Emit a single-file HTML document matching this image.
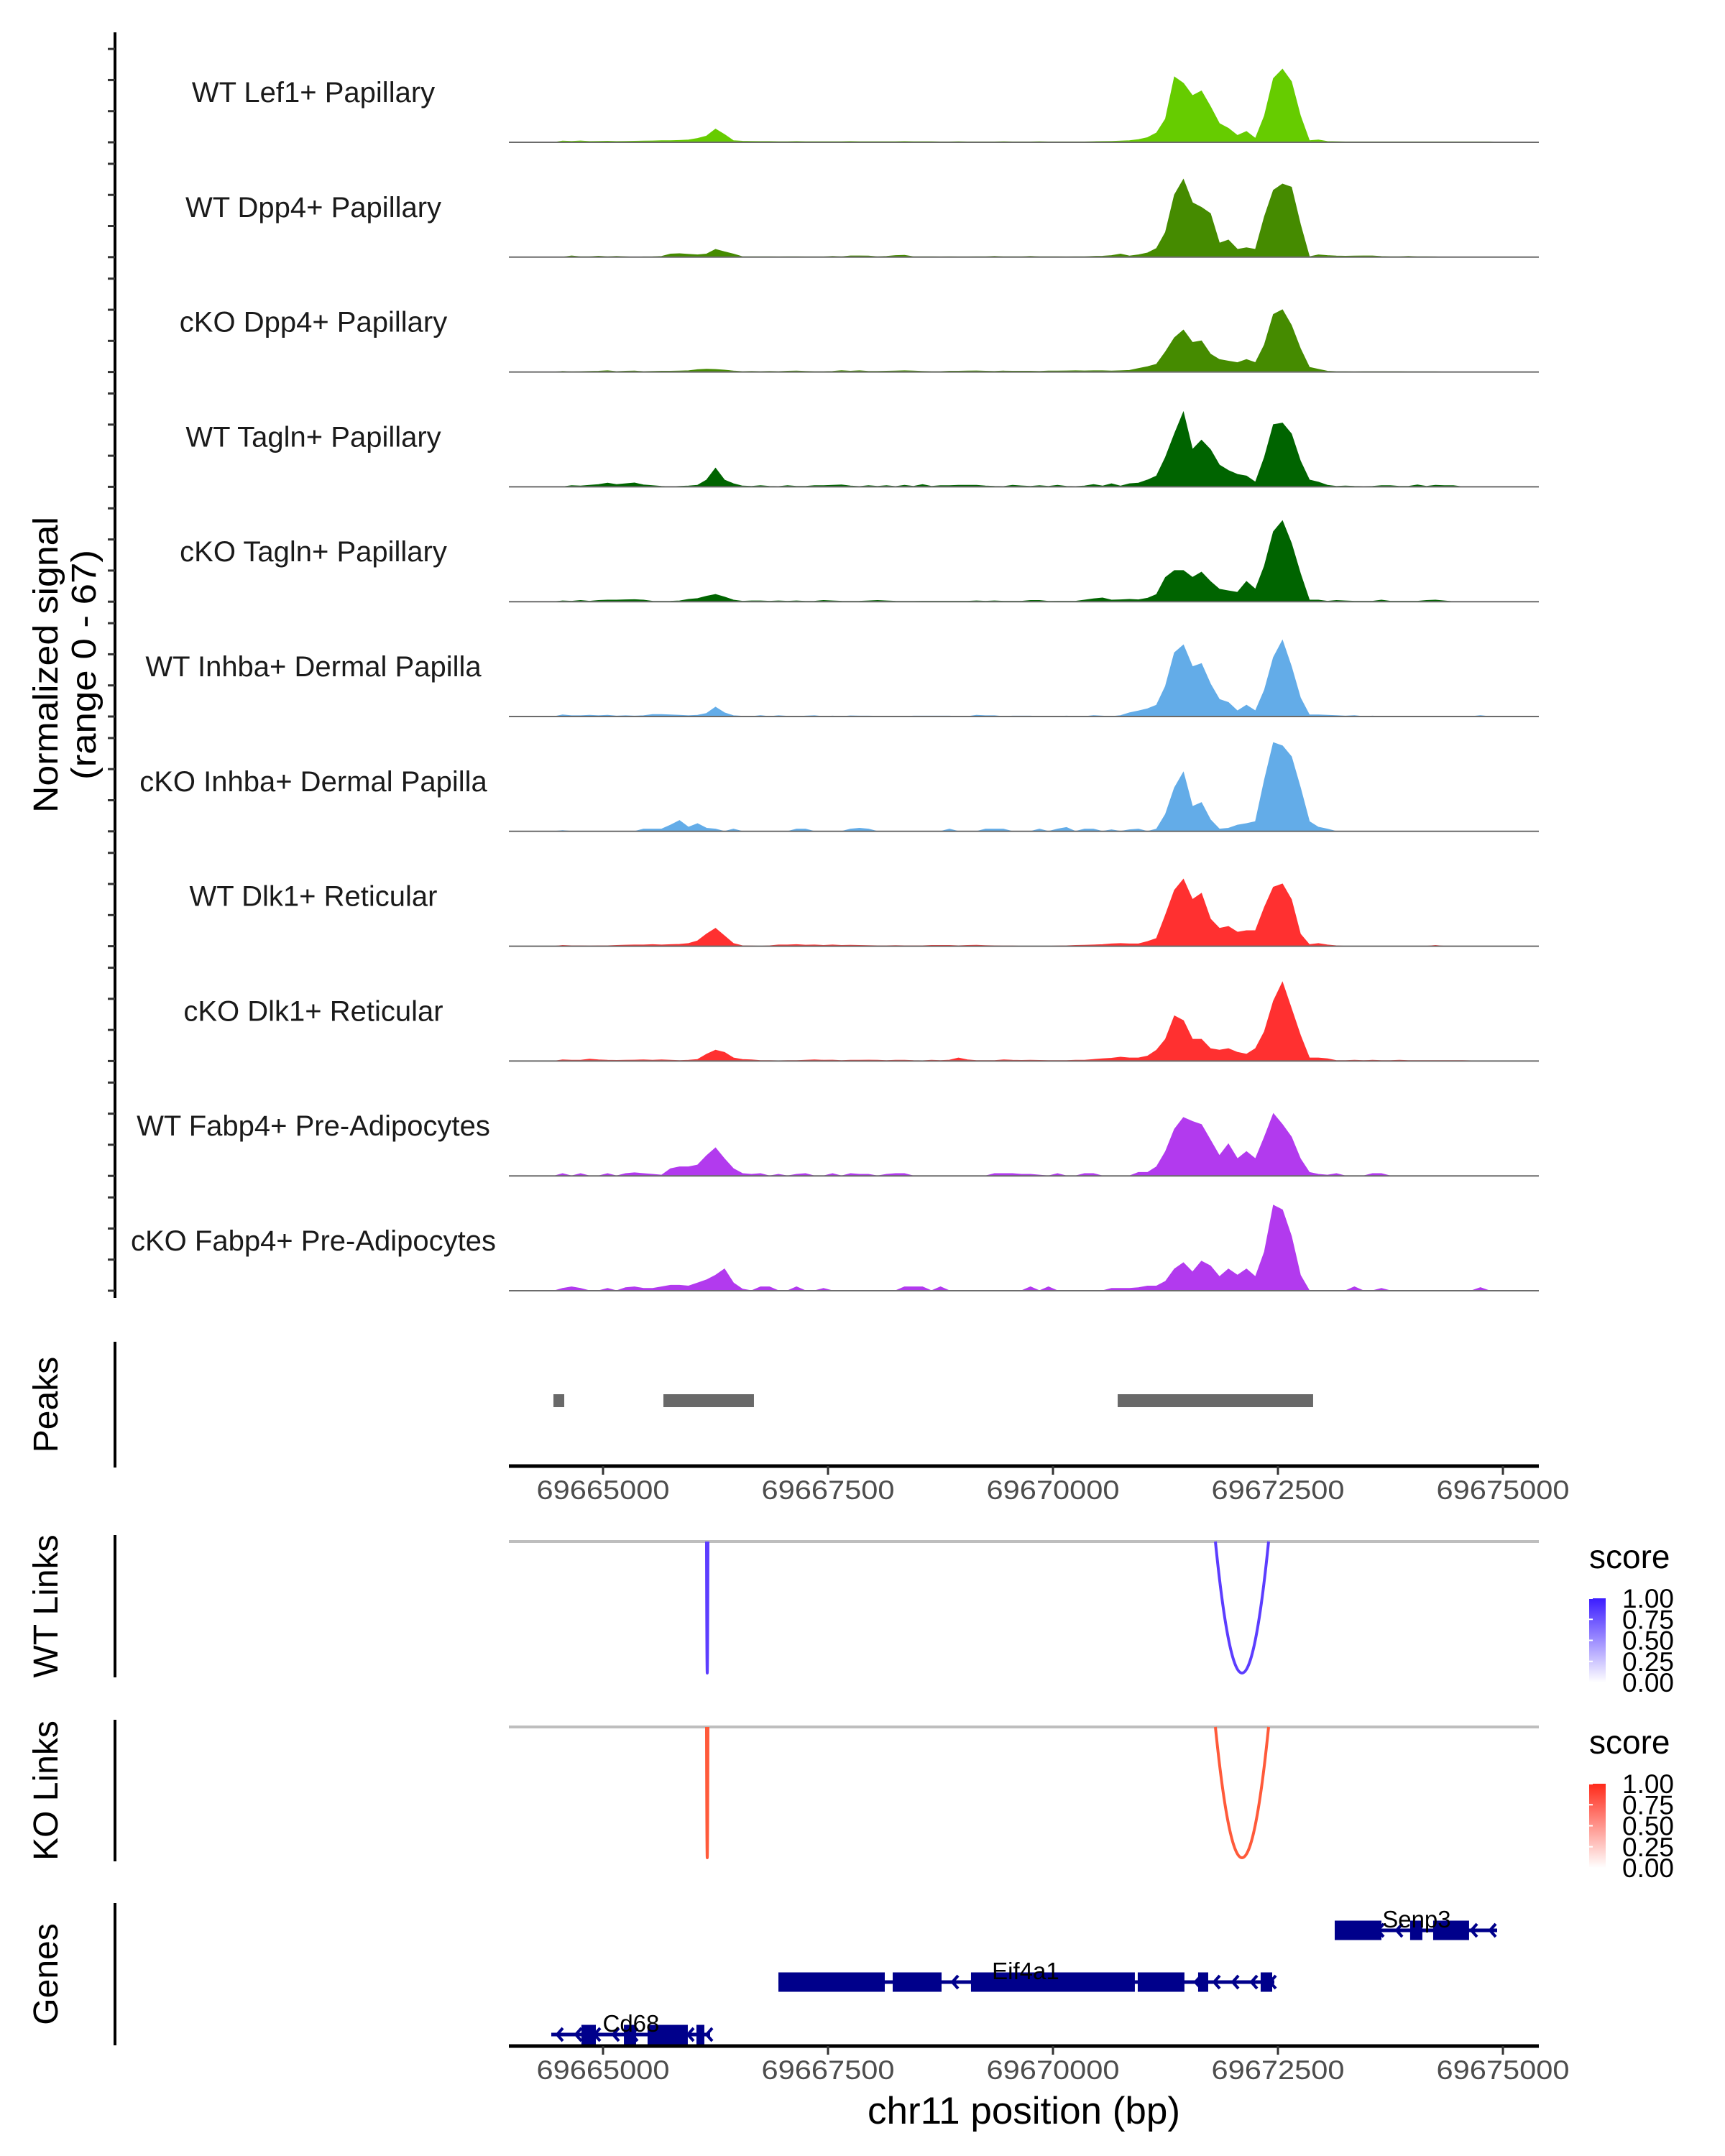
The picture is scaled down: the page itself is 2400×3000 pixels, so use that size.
<!DOCTYPE html>
<html><head><meta charset="utf-8"><title>Coverage plot chr11</title>
<style>
html,body{margin:0;padding:0;background:#fff;}
svg{display:block;font-family:"Liberation Sans",sans-serif;}
</style></head>
<body>
<svg id="chart" width="2400" height="3000" viewBox="0 0 2400 3000" xmlns="http://www.w3.org/2000/svg">
<defs>
<linearGradient id="gradWT" x1="0" y1="1" x2="0" y2="0"><stop offset="0" stop-color="#ffffff"/><stop offset="1" stop-color="#3b1cff"/></linearGradient>
<linearGradient id="gradKO" x1="0" y1="1" x2="0" y2="0"><stop offset="0" stop-color="#ffffff"/><stop offset="1" stop-color="#ff2a1a"/></linearGradient>
</defs>
<g id="tracks"></g>
<g id="peaks"></g>
<g id="links"></g>
<g id="genes"></g>
<g id="axes"></g>
</svg>
<script>
const trackNames = ["WT Lef1+ Papillary","WT Dpp4+ Papillary","cKO Dpp4+ Papillary","WT Tagln+ Papillary","cKO Tagln+ Papillary","WT Inhba+ Dermal Papilla","cKO Inhba+ Dermal Papilla","WT Dlk1+ Reticular","cKO Dlk1+ Reticular","WT Fabp4+ Pre-Adipocytes","cKO Fabp4+ Pre-Adipocytes"];
const trackColors = ["#66cc00","#458b00","#458b00","#006400","#006400","#63ace8","#63ace8","#ff3030","#ff3030","#b23aee","#b23aee"];
const binStart = 69664500;
const binSize = 100;
const sig1 = [0.8,0.6,0.9,0.5,0.6,0.7,0.5,0.6,0.7,0.8, 0.9,1,1,1.2,1.5,2.5,4,8.5,5,1, 0.7,0.6,0.5,0.5,0.4,0.4,0.5,0.4,0.4,0.4, 0.4,0.4,0.5,0.4,0.4,0.4,0.4,0.4,0.5,0.4, 0.4,0.4,0.3,0.3,0.4,0.3,0.3,0.3,0.3,0.4, 0.3,0.3,0.3,0.4,0.3,0.3,0.3,0.3,0.3,0.4, 0.5,0.6,0.8,1,1.7,3,6,15,42,38, 30,33,23,12,9,4.4,7,2.5,17,41, 47,39,17,1,1.5,0.5,0.4,0.3,0.3,0.3, 0.3,0.3,0.3,0.3,0.3,0.3,0.3,0.3,0.3,0.3, 0.3,0.3,0.3,0.3,0.2];
const sig2 = [0,0.8,0.3,0.3,0.6,0.3,0.5,0.3,0,0.2, 0.3,0.5,2,2.2,1.8,1.5,2,5,3.4,2, 0.3,0.3,0.3,0.3,0.2,0.3,0.3,0.2,0.2,0.2, 0.5,0.3,0.8,0.8,0.7,0.3,0.5,1,1.2,0.3, 0.3,0.3,0.2,0.3,0.2,0.2,0.3,0.3,0.5,0.3, 0.3,0.3,0.5,0.3,0.3,0.3,0.2,0.3,0.3,0.5, 0.6,1,2,0.7,1.5,2.7,5.6,16,40,50, 35,32,28,9,11,5,6,5,26,43, 47,45,21,0.3,1.5,1,0.7,0.6,0.7,0.8, 0.8,0.4,0.3,0.3,0.5,0.3,0.3,0.2,0,0, 0,0,0,0,0];
const sig3 = [0.4,0.2,0.3,0.4,0.5,0.8,0.3,0.5,0.6,0.3, 0.4,0.5,0.5,0.6,0.8,1.5,1.8,1.6,1.2,0.6, 0.3,0.4,0.3,0.4,0.3,0.5,0.6,0.4,0.3,0.3, 0.4,0.9,0.5,0.8,0.4,0.4,0.5,0.6,0.8,0.6, 0.4,0.3,0.3,0.5,0.5,0.6,0.7,0.5,0.4,0.6, 0.5,0.5,0.5,0.4,0.6,0.6,0.7,0.8,0.7,0.8, 0.8,0.6,0.8,1,2.2,3.4,5,13,22,27, 19,20,11.5,8,7,6,8,6,17.5,37, 40,30,15,3,1.7,0.5,0.3,0.3,0.2,0.3, 0.3,0.3,0.3,0.3,0.2,0.2,0.2,0.2,0,0, 0,0,0,0,0];
const sig4 = [0,0.8,0.5,1,1.5,2.4,1.5,2,2.5,1.2, 0.8,0.3,0,0.3,0.5,1,4.4,12,4.4,2, 0.5,0.3,0.8,0.3,0.2,0.8,0.3,0.3,0.8,0.8, 1,1.2,0.5,0.2,0.8,0.3,0.8,0.2,1,0.3, 1.5,0.3,0.8,0.8,1,1,1,0.5,0.3,0.2, 1,0.6,0.3,0.8,0.3,1,0.3,0.2,0.5,1.5, 0.5,2,0.5,2,2.4,4.4,7,19,34,48, 24,30,24,14,10.5,8,7,3,19,40, 41,34,16.6,4.4,3,1,0.3,0.5,0.3,0.2, 0.3,0.8,0.8,0.3,0.3,1.2,0.3,1,0.8,0.8, 0,0,0,0,0];
const sig5 = [0.5,0.3,0.8,0.3,0.8,1,1,1.2,1.3,1, 0.3,0.2,0.3,0.5,1.5,2,3.5,4.6,3,1, 0.3,0.5,0.5,0.3,0.5,0.3,0.5,0.2,0.3,0.8, 0.5,0.3,0.2,0.3,0.5,0.8,0.5,0.3,0.2,0.2, 0.3,0.3,0.3,0.3,0.3,0.3,0.5,0.3,0.5,0.3, 0.3,0.3,0.8,0.8,0.2,0.3,0.3,0.3,1,1.8, 2.4,1,1.2,1.5,1.2,2.2,4.6,15.6,20,20, 15.6,19,13,8,7,6,13,8,23,45, 52,37.5,18,1,1,0.3,0.8,0.5,0.3,0.3, 0.3,1,0.3,0.3,0.3,0.3,0.8,1,0.5,0, 0,0,0,0,0];
const sig6 = [1,0.5,0.5,0.8,0.5,0.8,0.3,0.5,0.3,0.5, 1.3,1.3,1,0.8,0.5,0.8,2,6,2.4,0.5, 0.2,0,0.6,0,0.5,0.2,0,0.3,0.5,0, 0.3,0,0.4,0.3,0.3,0.2,0,0,0,0.3, 0.3,0.3,0.3,0.3,0,0,0.8,0.5,0.5,0, 0.3,0.3,0.3,0,0,0,0.3,0,0,0.6, 0.3,0,0.6,2.4,3.6,5,7.3,19.5,41,46, 32,34,21,11,9,3.6,7.3,3.6,17,38, 49,32,12,1,1,0.8,0.6,0.3,0.6,0, 0.3,0,0,0,0,0,0,0,0,0, 0,0,0.6,0,0];
const sig7 = [0.5,0,0,0,0,0,0,0,0,1.5, 1.5,1.5,4,7,2.7,5,2,1.5,0,1.5, 0,0,0,0,0,0,1.5,1.5,0,0, 0,0,1.5,2,1.5,0,0,0,0,0, 0,0,0,1.5,0,0,0,1.5,1.5,1.5, 0,0,0,1.5,0,1.5,2.5,0,1.5,1.5, 0,1,0,1,1.5,0,1.5,11,28,38, 16,18.5,7.5,1.5,2,4,5,6.3,33,57, 55,48,28,6.3,2.7,1.5,0,0,0,0, 0,0,0,0,0,0,0,0,0,0, 0,0,0,0,0];
const sig8 = [0.5,0.3,0.3,0.2,0.3,0.3,0.5,0.7,0.8,0.8, 1,0.8,1,1.2,1.7,3.4,7.8,11.5,6.6,1.7, 0.3,0.2,0,0.3,0.8,0.8,1,0.7,0.8,0.5, 0.8,0.5,0.6,0.5,0.4,0.3,0.3,0.4,0.3,0.3, 0.3,0.5,0.5,0.5,0.3,0.5,0.6,0.4,0.3,0.2, 0.2,0,0,0,0,0.2,0.3,0.5,0.6,0.8, 1,1.5,1.7,1.5,1.5,3,5,20,36,43, 30,34,17.5,11.5,12.7,9,10,10,25,38, 40,30,7.8,1,1.7,0.8,0.3,0,0,0, 0,0,0,0,0,0,0,0.5,0,0, 0,0,0,0,0];
const sig9 = [0.8,0.5,0.5,1.2,0.8,0.5,0.4,0.5,0.6,0.8, 0.5,0.8,0.5,0.3,0.5,1,4.4,7,5.6,2, 1,0.8,0.3,0.3,0.2,0.3,0.3,0.5,0.8,0.5, 0.6,0.3,0.5,0.5,0.6,0.5,0.3,0.5,0.5,0.3, 0.2,0.5,0.3,0.6,2,0.8,0.3,0.3,0.3,0.8, 0.5,0.4,0.5,0.4,0.3,0.3,0.3,0.5,0.5,1, 1.5,1.8,2.5,2,2,3.2,7,14,29,26, 14,14,8,7,8,5.6,4.4,8,19,38.5, 50.7,33.7,16.6,2,2,1.5,0.3,0.3,0.5,0.3, 0.5,0.3,0.3,0.5,0.3,0.3,0.3,0.3,0.3,0.3, 0.3,0.2,0,0,0];
const sig10 = [1.5,0,1.5,0,0,1.5,0,1.5,2,1.5, 1,0.5,4.6,5.8,5.8,7,13,18,11,4.6, 1.5,1,1.5,0,1,0,1,1.5,0,0, 1.5,0,1.5,1,1,0,1,1.5,1.5,0, 0,0,0,0,0,0,0,0,1.5,1.5, 1.5,1,1,0.5,0,1.5,0,0,1.5,1.5, 0,0,0,0,2.2,2.2,5.8,15.6,30,37.5, 35,33,23,13,20.5,11,15.6,11,25,40, 33,25,11,2.2,1,0.5,1.5,0,0,0, 1.5,1.5,0,0,0,0,0,0,0,0, 0,0,0,0,0];
const sig11 = [1.5,2.5,1.5,0,0,1.5,0,2,2.5,1.5, 1.5,2.5,3.5,3.5,3,5,7,10,14,5, 1,0,2.5,2.5,0,0,2.5,0,0,1.5, 0,0,0,0,0,0,0,0,2.5,2.5, 2.5,0,2.5,0,0,0,0,0,0,0, 0,0,2.5,0,2.5,0,0,0,0,0, 0,1.5,1.5,1.5,2,3,3,6,14,18, 12,19,16,9,14,10,14,9,25,55, 52,35,10,0,0,0,0,0,2.5,0, 0,1.5,0,0,0,0,0,0,0,0, 0,0,2,0,0];
const signals = [sig1,sig2,sig3,sig4,sig5,sig6,sig7,sig8,sig9,sig10,sig11];
const yTicks = [0,20,40,60];
const xTicks = [69665000,69667500,69670000,69672500,69675000];
const peakStarts = [69664449,69665671,69670719];
const peakEnds = [69664569,69666677,69672891];
const linkStarts = [69666150,69671805];
const linkEnds = [69666166,69672396];
const geneNames = ["Cd68","Eif4a1","Senp3"];
const geneStarts = [69664425,69666949,69673131];
const geneEnds = [69666190,69672460,69674936];
const geneRows = [2,1,0];
const geneLabelPos = [69665311,69669696,69674041];
const exonStarts = [[69664760,69665232,69665495,69666038],[69666949,69668219,69669089,69670942,69671613,69672308],[69673131,69673969,69674225]];
const exonEnds = [[69664920,69665367,69665942,69666126],[69668131,69668762,69670910,69671461,69671725,69672436],[69673650,69674105,69674624]];
const legendTicks = [1.00,0.75,0.50,0.25,0.00];

const NS = "http://www.w3.org/2000/svg";
function mk(tag, attrs, parent){ const e=document.createElementNS(NS,tag); for(const k in attrs) e.setAttribute(k,attrs[k]); parent.appendChild(e); return e; }
const X0 = 69665000, XPX0 = 839, XS = 0.1252;
function xs(bp){ return XPX0 + (bp - X0) * XS; }
const PLOT_L = 708, PLOT_R = 2141;
const YMAX = 67, TRACK_H = 145;
function baseY(i){ return 198 + 159.8 * i; }
function ys(i, v){ return baseY(i) - v / YMAX * TRACK_H; }

const gT = document.getElementById('tracks');
const gA = document.getElementById('axes');
const ax = mk('line',{x1:160,y1:45,x2:160,y2:1806,stroke:'#000','stroke-width':4},gA);


const yt1 = mk('text',{x:0,y:0,'font-size':48,'text-anchor':'middle',fill:'#000',textLength:412,lengthAdjust:'spacingAndGlyphs',transform:'translate(80,925) rotate(-90)'},gA);
yt1.textContent='Normalized signal';


const yt2 = mk('text',{x:0,y:0,'font-size':48,'text-anchor':'middle',fill:'#000',textLength:320,lengthAdjust:'spacingAndGlyphs',transform:'translate(133,925) rotate(-90)'},gA);
yt2.textContent='(range 0 - 67)';



signals.forEach((s,i)=>{
  const g = mk('g',{},gT);
  
  
  const b = baseY(i);
  yTicks.forEach(t=>{
    const tk = mk('line',{x1:150,x2:160,y1:ys(i,t),y2:ys(i,t),stroke:'#333','stroke-width':3},gA);
    
    
  });
  let d = 'M'+xs(binStart - 40)+','+b;
  s.forEach((v,k)=>{ d += ' L'+xs(binStart + k*binSize + binSize/2).toFixed(1)+','+ys(i,v).toFixed(1); });
  d += ' L'+xs(binStart + s.length*binSize).toFixed(1)+','+b+' Z';
  const p = mk('path',{d:d,fill:trackColors[i],stroke:trackColors[i],'stroke-width':1},g);
  
  
  const bl = mk('line',{x1:PLOT_L,x2:PLOT_R,y1:b,y2:b,stroke:'#6b6b6b','stroke-width':2},g);
  
  
  const lb = mk('text',{x:436,y:b-70+14,'font-size':40,'text-anchor':'middle',fill:'#1a1a1a'},g);
  lb.textContent = trackNames[i];
  
  
});

const gP = document.getElementById('peaks');
function sideAxis(y1,y2,label,name){
  const l = mk('line',{x1:160,x2:160,y1:y1,y2:y2,stroke:'#000','stroke-width':4},gA);
  
  
  const t = mk('text',{x:0,y:0,'font-size':48,'text-anchor':'middle',fill:'#000',transform:'translate(80,'+((y1+y2)/2)+') rotate(-90)'},gA);
  t.textContent = label;
  
  
}
sideAxis(1867,2042,'Peaks','peaks');
sideAxis(2136,2334,'WT Links','wt-links');
sideAxis(2393,2590,'KO Links','ko-links');
sideAxis(2648,2846,'Genes','genes');
peakStarts.forEach((s,i)=>{
  const r = mk('rect',{x:xs(s),y:1940,width:xs(peakEnds[i])-xs(s),height:18,fill:'#696969'},gP);
  
  
});
function xAxis(y, showTitle){
  const l = mk('line',{x1:PLOT_L,x2:PLOT_R,y1:y,y2:y,stroke:'#000','stroke-width':5},gA);
  
  
  xTicks.forEach(t=>{
    const tk = mk('line',{x1:xs(t),x2:xs(t),y1:y,y2:y+12,stroke:'#333','stroke-width':3},gA);
    
    
    const tl = mk('text',{x:xs(t),y:y+46,'font-size':37,'text-anchor':'middle',fill:'#4d4d4d',textLength:185,lengthAdjust:'spacingAndGlyphs'},gA);
    tl.textContent = String(t);
    
    
  });
  if(showTitle){
    const tt = mk('text',{x:(PLOT_L+PLOT_R)/2,y:y+108,'font-size':53,'text-anchor':'middle',fill:'#000'},gA);
    tt.textContent = 'chr11 position (bp)';
    
    
  }
}
xAxis(2040,false);

const gL = document.getElementById('links');
function linkPanel(base, depth, color, grad, legY, name){
  const bl = mk('line',{x1:PLOT_L,x2:PLOT_R,y1:base,y2:base,stroke:'#bebebe','stroke-width':4},gL);
  
  
  linkStarts.forEach((s,i)=>{
    const x1 = xs(s), x2 = xs(linkEnds[i]);
    const p = mk('path',{d:'M'+x1+','+base+' Q'+((x1+x2)/2)+','+(base+2*depth)+' '+x2+','+base,fill:'none',stroke:color,'stroke-width':4},gL);
    
    
  });
  const st = mk('text',{x:2211,y:legY,'font-size':46,fill:'#000'},gL);
  st.textContent='score';
  
  
  const top = legY+42, h = 117;
  const cb = mk('rect',{x:2211,y:top,width:23,height:h,fill:'url(#'+grad+')'},gL);
  
  
  legendTicks.forEach(v=>{
    const yy = top + (1-v)*h;
    const tk = mk('line',{x1:2211,x2:2216,y1:yy,y2:yy,stroke:'#fff','stroke-width':2},gL);
    
    
    const tl = mk('text',{x:2257,y:yy+13,'font-size':37,fill:'#000'},gL);
    tl.textContent = v.toFixed(2);
    
    
  });
}
linkPanel(2145,183,'#5c3dff','gradWT',2182,'wt-links');
linkPanel(2403,182,'#ff5a3a','gradKO',2440,'ko-links');

const gG = document.getElementById('genes');
const rowY = [2686,2758,2831];
geneNames.forEach((n,i)=>{
  const g = mk('g',{},gG);
  
  
  const y = rowY[geneRows[i]];
  const x1 = xs(geneStarts[i]), x2 = xs(geneEnds[i]);
  mk('line',{x1:x1,x2:x2,y1:y,y2:y,stroke:'#00008b','stroke-width':5},g);
  for(let ax2 = x1+8; ax2 < x2-4; ax2 += 26){
    mk('path',{d:'M'+(ax2+8)+','+(y-9)+' L'+ax2+','+y+' L'+(ax2+8)+','+(y+9),fill:'none',stroke:'#00008b','stroke-width':4},g);
  }
  exonStarts[i].forEach((s,j)=>{
    mk('rect',{x:xs(s),y:y-13.5,width:xs(exonEnds[i][j])-xs(s),height:27,fill:'#00008b'},g);
  });
  const t = mk('text',{x:xs(geneLabelPos[i]),y:y-4,'font-size':33,'text-anchor':'middle',fill:'#000'},g);
  t.textContent = n;
  
  
});
xAxis(2847,true);
</script>
</body></html>
